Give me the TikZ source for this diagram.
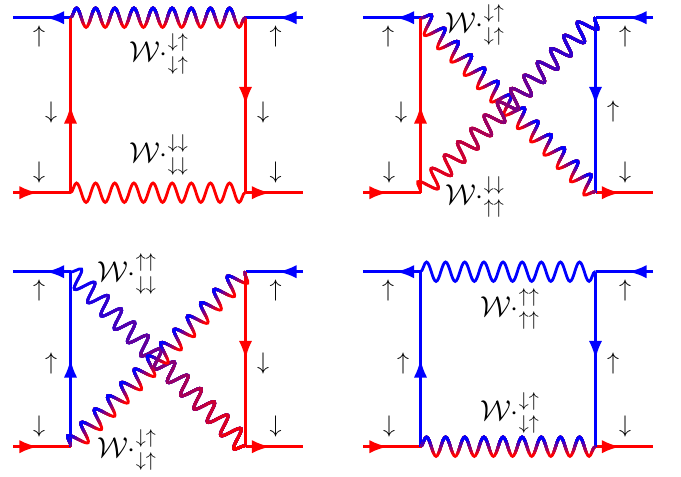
\documentclass[tikz,border=0pt]{standalone}
\usepackage{amsmath}
\usepackage{amssymb}
\usepackage{tikz}
\usetikzlibrary{arrows.meta, calc}
\usetikzlibrary{decorations.pathmorphing, decorations.markings}

\begin{document}
\begin{tikzpicture}[% styles used in image code
          x = 0.6pt, y = 0.6pt,
fermion/.style = {line width=1.7pt, postaction={decorate},
                  decoration={markings,
                              mark=at position #1 with {\arrow{Latex[length=11pt,width=8pt]}}}},
fermion/.default = 0.43,
 photon/.style = {line width=1.7pt, decorate,
                  decoration={snake, amplitude=5.8pt, segment length=#1}},
 photon/.default = 11.48pt,
   spin/.style = {font=\fontsize{14}{16}\selectfont, inner sep=0pt},
   wlab/.style = {font=\fontsize{17.28}{20}\selectfont, inner sep=0pt}
                    ]
	\useasboundingbox (0,0) rectangle (681,-477);

	% ---------- upper left: box, both photons horizontal
	\begin{scope}
	\coordinate (A) at (13,-17.7);    \coordinate (B) at (70.5,-17.7);
	\coordinate (C) at (245.5,-17.7); \coordinate (D) at (303,-17.7);
	\coordinate (E) at (13,-192.7);   \coordinate (F) at (70.5,-192.7);
	\coordinate (G) at (245.5,-192.7);\coordinate (H) at (303,-192.7);

	\draw [fermion, blue] (B) -- (A);
	\draw [fermion, blue] (D) -- (C);
	\draw [fermion, red]  (E) -- (F);
	\draw [fermion, red]  (G) -- (H);
	\draw [fermion=0.5, red] (F) -- (B);
	\draw [fermion=0.5, red] (C) -- (G);

	% blue crests, red troughs
	\foreach \k in {0,...,9} {
		\pgfmathsetmacro\bandmix{100*\k/9}
		\pgfmathsetmacro\bandlo{\k==0 ? -12 : 1.0*(\k-5)}
		\begin{scope}
			\clip ($(B)!\bandlo pt!90:(C)$) -- ($(C)!\bandlo pt!-90:(B)$)
			   -- ($(C)!12pt!-90:(B)$) -- ($(B)!12pt!90:(C)$) -- cycle;
			\draw [photon, blue!\bandmix!red] (B) -- (C);
		\end{scope}
	}
	\draw [photon, red] (F) -- (G);

	\node[spin] (ua) at (39,-37)    {$\uparrow$};
	\node[spin] (ub) at (51,-113)   {$\downarrow$};
	\node[spin] (uc) at (39,-173)   {$\downarrow$};
	\node[spin] (ud) at (275.5,-37) {$\uparrow$};
	\node[spin] (ue) at (263,-113)  {$\downarrow$};
	\node[spin] (uf) at (275.5,-173){$\downarrow$};
	\node[wlab] (wa) at (159,-54)  {$\mathcal{W}\cdot^{\downarrow\uparrow}_{\downarrow\uparrow}$};
	\node[wlab] (wb) at (159,-155) {$\mathcal{W}\cdot^{\downarrow\downarrow}_{\downarrow\downarrow}$};
	\end{scope}

	% ---------- upper right: crossed photons
	\begin{scope}[shift={(350,0)}]
	\coordinate (A) at (13,-17.7);    \coordinate (B) at (70.5,-17.7);
	\coordinate (C) at (245.5,-17.7); \coordinate (D) at (303,-17.7);
	\coordinate (E) at (13,-192.7);   \coordinate (F) at (70.5,-192.7);
	\coordinate (G) at (245.5,-192.7);\coordinate (H) at (303,-192.7);

	\draw [fermion, blue] (B) -- (A);
	\draw [fermion, blue] (D) -- (C);
	\draw [fermion, red]  (E) -- (F);
	\draw [fermion, red]  (G) -- (H);
	\draw [fermion=0.5, red]  (F) -- (B);
	\draw [fermion=0.5, blue] (C) -- (G);

	% B -- G, blue on one side, red on the other
	\foreach \k in {0,...,9} {
		\pgfmathsetmacro\bandmix{100*\k/9}
		\pgfmathsetmacro\bandlo{\k==0 ? -12 : 1.0*(\k-5)}
		\begin{scope}
			\clip ($(B)!\bandlo pt!90:(G)$) -- ($(G)!\bandlo pt!-90:(B)$)
			   -- ($(G)!12pt!-90:(B)$) -- ($(B)!12pt!90:(G)$) -- cycle;
			\draw [photon=11.28pt, blue!\bandmix!red] (B) -- (G);
		\end{scope}
	}
	% F -- C, red into blue along the line
	\foreach \k in {0,...,15} {
		\pgfmathsetmacro\bandmix{100*\k/15}
		\pgfmathsetmacro\tpos{\k==0 ? -0.1 : (\k-0.5)/15}
		\begin{scope}
			\clip ($(F)!\tpos!(C)!12pt!90:(C)$) -- ($(F)!\tpos!(C)!12pt!-90:(C)$)
			   -- ($(C)!-0.1!(F)!12pt!90:(F)$) -- ($(C)!-0.1!(F)!12pt!-90:(F)$) -- cycle;
			\draw [photon=11.28pt, blue!\bandmix!red] (F) -- (C);
		\end{scope}
	}

	\node[spin] (va) at (38,-37)    {$\uparrow$};
	\node[spin] (vb) at (51,-113)   {$\downarrow$};
	\node[spin] (vc) at (39,-173)   {$\downarrow$};
	\node[spin] (vd) at (275,-37)   {$\uparrow$};
	\node[spin] (ve) at (263,-112)  {$\uparrow$};
	\node[spin] (vf) at (275,-173)  {$\downarrow$};
	\node[wlab] (wc) at (125,-25)  {$\mathcal{W}\cdot^{\downarrow\uparrow}_{\downarrow\uparrow}$};
	\node[wlab] (wd) at (125,-197) {$\mathcal{W}\cdot^{\downarrow\downarrow}_{\uparrow\uparrow}$};
	\end{scope}

	% ---------- lower left: crossed photons
	\begin{scope}[shift={(0,-254)}]
	\coordinate (A) at (13,-17.7);    \coordinate (B) at (70.5,-17.7);
	\coordinate (C) at (245.5,-17.7); \coordinate (D) at (303,-17.7);
	\coordinate (E) at (13,-192.7);   \coordinate (F) at (70.5,-192.7);
	\coordinate (G) at (245.5,-192.7);\coordinate (H) at (303,-192.7);

	\draw [fermion, blue] (B) -- (A);
	\draw [fermion, blue] (D) -- (C);
	\draw [fermion, red]  (E) -- (F);
	\draw [fermion, red]  (G) -- (H);
	\draw [fermion=0.5, blue] (F) -- (B);
	\draw [fermion=0.5, red]  (C) -- (G);

	% B -- G, blue into red along the line
	\foreach \k in {0,...,15} {
		\pgfmathsetmacro\bandmix{100*\k/15}
		\pgfmathsetmacro\tpos{\k==0 ? -0.1 : (\k-0.5)/15}
		\begin{scope}
			\clip ($(B)!\tpos!(G)!12pt!90:(G)$) -- ($(B)!\tpos!(G)!12pt!-90:(G)$)
			   -- ($(G)!-0.1!(B)!12pt!90:(B)$) -- ($(G)!-0.1!(B)!12pt!-90:(B)$) -- cycle;
			\draw [photon=11.28pt, red!\bandmix!blue] (B) -- (G);
		\end{scope}
	}
	% F -- C, blue on one side, red on the other
	\foreach \k in {0,...,9} {
		\pgfmathsetmacro\bandmix{100*\k/9}
		\pgfmathsetmacro\bandlo{\k==0 ? -12 : 1.0*(\k-5)}
		\begin{scope}
			\clip ($(F)!\bandlo pt!90:(C)$) -- ($(C)!\bandlo pt!-90:(F)$)
			   -- ($(C)!12pt!-90:(F)$) -- ($(F)!12pt!90:(C)$) -- cycle;
			\draw [photon=11.28pt, blue!\bandmix!red] (F) -- (C);
		\end{scope}
	}

	\node[spin] (xa) at (39,-37)    {$\uparrow$};
	\node[spin] (xb) at (51,-110)   {$\uparrow$};
	\node[spin] (xc) at (39,-173)   {$\downarrow$};
	\node[spin] (xd) at (275.5,-37) {$\uparrow$};
	\node[spin] (xe) at (263,-110)  {$\downarrow$};
	\node[spin] (xf) at (275.5,-173){$\downarrow$};
	\node[wlab] (we) at (127,-20)  {$\mathcal{W}\cdot^{\uparrow\uparrow}_{\downarrow\downarrow}$};
	\node[wlab] (wf) at (127,-196) {$\mathcal{W}\cdot^{\downarrow\uparrow}_{\downarrow\uparrow}$};
	\end{scope}

	% ---------- lower right: box
	\begin{scope}[shift={(350,-254)}]
	\coordinate (A) at (13,-17.7);    \coordinate (B) at (70.5,-17.7);
	\coordinate (C) at (245.5,-17.7); \coordinate (D) at (303,-17.7);
	\coordinate (E) at (13,-192.7);   \coordinate (F) at (70.5,-192.7);
	\coordinate (G) at (245.5,-192.7);\coordinate (H) at (303,-192.7);

	\draw [fermion, blue] (B) -- (A);
	\draw [fermion, blue] (D) -- (C);
	\draw [fermion, red]  (E) -- (F);
	\draw [fermion, red]  (G) -- (H);
	\draw [fermion=0.5, blue] (F) -- (B);
	\draw [fermion=0.5, blue] (C) -- (G);

	\draw [photon, blue] (B) -- (C);
	% blue crests, red troughs
	\foreach \k in {0,...,9} {
		\pgfmathsetmacro\bandmix{100*\k/9}
		\pgfmathsetmacro\bandlo{\k==0 ? -12 : 1.0*(\k-5)}
		\begin{scope}
			\clip ($(F)!\bandlo pt!90:(G)$) -- ($(G)!\bandlo pt!-90:(F)$)
			   -- ($(G)!12pt!-90:(F)$) -- ($(F)!12pt!90:(G)$) -- cycle;
			\draw [photon, blue!\bandmix!red] (F) -- (G);
		\end{scope}
	}

	\node[spin] (ya) at (38,-37)    {$\uparrow$};
	\node[spin] (yb) at (53,-110)   {$\uparrow$};
	\node[spin] (yc) at (39,-173)   {$\downarrow$};
	\node[spin] (yd) at (275,-37)   {$\uparrow$};
	\node[spin] (ye) at (263,-110)  {$\uparrow$};
	\node[spin] (yf) at (275,-173)  {$\downarrow$};
	\node[wlab] (wg) at (160,-55)  {$\mathcal{W}\cdot^{\uparrow\uparrow}_{\uparrow\uparrow}$};
	\node[wlab] (wh) at (160,-159) {$\mathcal{W}\cdot^{\downarrow\uparrow}_{\downarrow\uparrow}$};
	\end{scope}
\end{tikzpicture}
\end{document}
